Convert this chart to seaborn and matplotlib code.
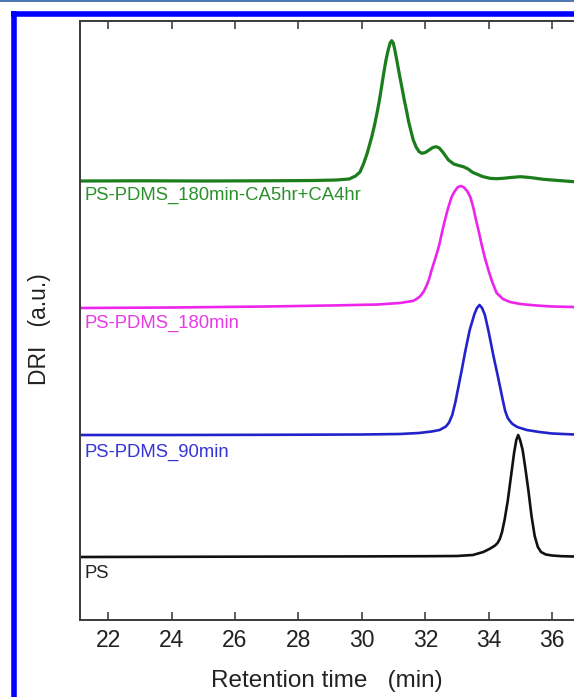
import matplotlib
matplotlib.use("Agg")
import matplotlib.pyplot as plt
from matplotlib.lines import Line2D
import seaborn as sns
import pandas as pd

# ── data (retention time in min, DRI offset a.u.) ──
ps_t = [21.1, 24.0, 27.0, 30.0, 32.0, 33.0, 33.5, 33.83, 34.05, 34.2, 34.28, 34.35, 34.42,
        34.5, 34.6, 34.7, 34.8, 34.87, 34.93, 34.99, 35.07, 35.15, 35.25, 35.35, 35.45,
        35.55, 35.65, 35.8, 36.0, 36.3, 36.7]
ps_y = [0.630, 0.632, 0.634, 0.636, 0.638, 0.640, 0.650, 0.680, 0.715, 0.745, 0.770, 0.810,
        0.880, 1.000, 1.190, 1.430, 1.670, 1.800, 1.850, 1.800, 1.700, 1.530, 1.300, 1.040,
        0.840, 0.730, 0.680, 0.655, 0.645, 0.638, 0.635]

p90_t = [21.1, 24.0, 27.0, 30.0, 31.2, 31.8, 32.2, 32.45, 32.65, 32.75, 32.85, 32.95, 33.05,
         33.15, 33.25, 33.4, 33.55, 33.63, 33.71, 33.79, 33.88, 34.0, 34.15, 34.3, 34.45,
         34.52, 34.6, 34.68, 34.75, 34.9, 35.2, 35.6, 36.0, 36.7]
p90_y = [1.850, 1.850, 1.852, 1.855, 1.860, 1.870, 1.885, 1.900, 1.935, 1.975, 2.050, 2.180,
         2.340, 2.500, 2.670, 2.900, 3.060, 3.120, 3.150, 3.120, 3.050, 2.880, 2.640, 2.420,
         2.190, 2.090, 2.020, 1.985, 1.960, 1.930, 1.900, 1.880, 1.865, 1.855]

p180_t = [21.1, 24.0, 27.0, 29.0, 30.5, 31.2, 31.6, 31.7, 31.83, 31.95, 32.05, 32.13, 32.2,
          32.32, 32.44, 32.53, 32.62, 32.72, 32.83, 32.93, 33.03, 33.13, 33.22, 33.32, 33.42,
          33.51, 33.6, 33.69, 33.78, 33.88, 33.99, 34.1, 34.25, 34.45, 34.67, 35.0, 35.5,
          36.0, 36.7]
p180_y = [3.120, 3.125, 3.135, 3.145, 3.155, 3.170, 3.190, 3.205, 3.235, 3.285, 3.350, 3.420,
          3.500, 3.620, 3.750, 3.880, 4.000, 4.120, 4.230, 4.290, 4.330, 4.340, 4.325, 4.290,
          4.230, 4.130, 4.000, 3.880, 3.750, 3.620, 3.500, 3.390, 3.270, 3.210, 3.180, 3.160,
          3.145, 3.135, 3.130]

ca_t = [21.1, 23.0, 25.0, 27.0, 28.5, 29.2, 29.6, 29.8, 29.94, 30.05, 30.17, 30.31, 30.4,
        30.49, 30.56, 30.62, 30.69, 30.76, 30.83, 30.89, 30.94, 30.99, 31.04, 31.1, 31.18,
        31.26, 31.33, 31.41, 31.47, 31.54, 31.62, 31.71, 31.8, 31.89, 32.0, 32.12, 32.24,
        32.34, 32.44, 32.55, 32.73, 32.9, 33.05, 33.2, 33.35, 33.5, 33.62, 33.8, 34.04,
        34.25, 34.46, 34.7, 34.99, 35.3, 35.72, 36.2, 36.69]
ca_y = [4.390, 4.392, 4.390, 4.392, 4.395, 4.400, 4.410, 4.440, 4.480, 4.560, 4.670, 4.830,
        4.950, 5.090, 5.210, 5.330, 5.470, 5.600, 5.700, 5.770, 5.793, 5.770, 5.700, 5.600,
        5.460, 5.330, 5.210, 5.090, 4.990, 4.900, 4.800, 4.730, 4.685, 4.667, 4.675, 4.700,
        4.725, 4.733, 4.720, 4.680, 4.600, 4.560, 4.545, 4.533, 4.510, 4.475, 4.460, 4.435,
        4.417, 4.413, 4.417, 4.425, 4.433, 4.425, 4.407, 4.395, 4.383]

series_names = ["PS", "PS-PDMS_90min", "PS-PDMS_180min", "PS-PDMS_180min-CA5hr+CA4hr"]
label_y = [0.46, 1.68, 2.97, 4.25]
x_ticks = [22, 24, 26, 28, 30, 32, 34, 36]

# ── style ──
sns.set_theme(style="ticks")
plt.rcParams["font.family"] = ["Liberation Sans", "DejaVu Sans"]

W, H = 574, 697
fig = plt.figure(figsize=(W / 100, H / 100), dpi=100, facecolor="white")
ax = fig.add_axes([80 / W, 77 / H, 494 / W, 599.1 / H])

traces = [(ps_t, ps_y), (p90_t, p90_y), (p180_t, p180_y), (ca_t, ca_y)]
line_colors = ["#111111", "#2323cc", "#ec24ec", "#1b7d1b"]
text_colors = ["#222222", "#3434d4", "#e63ae6", "#2a902a"]
widths = [1.9, 1.9, 1.9, 2.3]

for (t, y), lc, lw in zip(traces, line_colors, widths):
    df = pd.DataFrame({"t": t, "dri": y})
    sns.lineplot(data=df, x="t", y="dri", ax=ax, color=lc, lw=lw, estimator=None)

for name, ly, tc in zip(series_names, label_y, text_colors):
    ax.text(21.24, ly, name, color=tc, fontsize=13.3, ha="left", va="center")

ax.set_xlim(21.11, 36.69)
ax.set_ylim(0, 5.991)
ax.set_xticks(x_ticks)
ax.set_yticks([])
ax.tick_params(axis="x", direction="in", top=True, bottom=True, length=5.8, width=1.1,
               labelsize=16.5, pad=6.8, color="#333333", labelcolor="#222222")
for side in ["left", "top", "bottom"]:
    ax.spines[side].set_color("#3a3a3a")
    ax.spines[side].set_linewidth(1.4)
ax.spines["right"].set_visible(False)

ax.set_xlabel("Retention time   (min)", fontsize=17.5, color="#222222", labelpad=13)
ax.set_ylabel("DRI   (a.u.)", fontsize=16.5, color="#222222")
ax.yaxis.label.set_va("center")
ax.yaxis.set_label_coords(-(80 - 39.5) / 494, (620 - 329) / 599.1)

# blue frame around the figure
fig.add_artist(Line2D([13.5 / W, 13.5 / W], [0, 1 - 11 / H], transform=fig.transFigure,
                      color="#0000ff", lw=4.0, solid_capstyle="butt"))
fig.add_artist(Line2D([11 / W, 1], [1 - 13.7 / H, 1 - 13.7 / H], transform=fig.transFigure,
                      color="#0000ff", lw=4.0, solid_capstyle="butt"))
fig.add_artist(Line2D([0, 1], [1 - 0.8 / H, 1 - 0.8 / H], transform=fig.transFigure,
                      color="#2f5fa8", lw=1.2))

fig.savefig("out.png", dpi=100, facecolor="white")
